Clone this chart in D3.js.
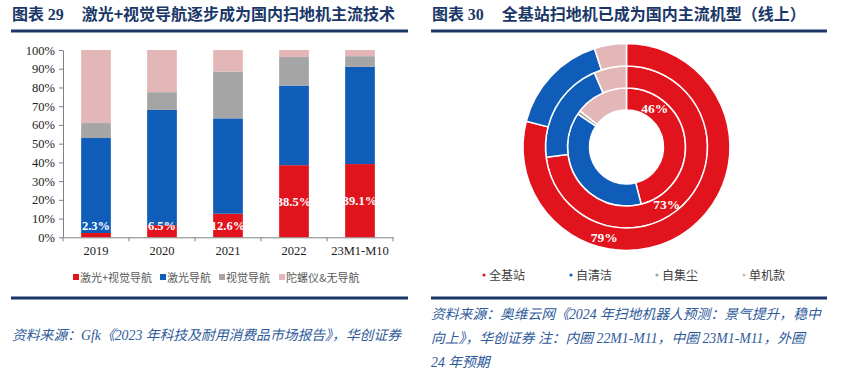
<!DOCTYPE html>
<html>
<head>
<meta charset="utf-8">
<script src="https://cdn.jsdelivr.net/npm/d3@7"></script>
<style>
  html, body { margin: 0; padding: 0; background: #fff; }
  svg { display: block; }
</style>
</head>
<body>
<svg id="chart" width="844" height="374"></svg>
<script>
// left chart: navigation tech share
const years = ['2019', '2020', '2021', '2022', '23M1-M10'];
const navKeys = ['激光+视觉导航', '激光导航', '视觉导航', '陀螺仪&无导航'];
const laserVision = [2.3, 6.5, 12.6, 38.5, 39.1];
const laserOnly = [50.7, 61.5, 50.9, 42.5, 51.9];
const visionOnly = [8.0, 9.5, 25.0, 15.3, 5.7];
const gyroNone = [39.0, 22.5, 11.5, 3.7, 3.3];
const yTicks = [0, 10, 20, 30, 40, 50, 60, 70, 80, 90, 100];

// right chart: product type share, rings inner -> outer
const ringNames = ['22M1-M11', '23M1-M11', '24E'];
const typeKeys = ['全基站', '自清洁', '自集尘', '单机款'];
const fullBase = [46, 73, 79];
const selfClean = [38.5, 20.5, 16];
const selfDust = [1, 0, 0];
const single = [14.5, 6.5, 5];

const RED = '#E1141E', BLUE = '#0F5DB8', GRAY = '#A5A5A5', PINK = '#E3B7B7';
const NAVY = '#1A3768';
const cjk = '"Noto Sans CJK SC", sans-serif';
const serif = '"Liberation Serif", "Times New Roman", serif';
const mixed = '"Liberation Serif", "Noto Sans CJK SC", serif';

const svg = d3.select('#chart');

// headers
function header(x0, x1, num, text) {
  const t = svg.append('text')
    .attr('x', x0 + 1).attr('y', 20)
    .attr('fill', NAVY)
    .attr('font-family', cjk)
    .attr('font-weight', 700)
    .attr('font-size', 16);
  t.append('tspan').text('图表 ');
  t.append('tspan').attr('font-family', serif).text(num);
  t.append('tspan').attr('dx', 18).text(text);
  svg.append('line')
    .attr('x1', x0).attr('x2', x1).attr('y1', 31).attr('y2', 31)
    .attr('stroke', NAVY).attr('stroke-width', 3);
  svg.append('line')
    .attr('x1', x0).attr('x2', x1).attr('y1', 298).attr('y2', 298)
    .attr('stroke', NAVY).attr('stroke-width', 3);
}
header(11, 408, '29', '激光+视觉导航逐步成为国内扫地机主流技术');
header(431, 827, '30', '全基站扫地机已成为国内主流机型（线上）');

// ---------- stacked bars ----------
const rows = years.map((y, i) => ({
  year: y,
  [navKeys[0]]: laserVision[i],
  [navKeys[1]]: laserOnly[i],
  [navKeys[2]]: visionOnly[i],
  [navKeys[3]]: gyroNone[i]
}));
const navColor = d3.scaleOrdinal().domain(navKeys).range([RED, BLUE, GRAY, PINK]);

const x = d3.scaleBand().domain(years).range([63, 393]).paddingInner(0.55).paddingOuter(0.275);
const y = d3.scaleLinear().domain([0, 100]).range([237.3, 50]);

const stacked = d3.stack().keys(navKeys)(rows);
const gBars = svg.append('g');
stacked.forEach(layer => {
  gBars.selectAll(null)
    .data(layer)
    .join('rect')
    .attr('x', d => x(d.data.year))
    .attr('width', x.bandwidth())
    .attr('y', d => y(d[1]))
    .attr('height', d => y(d[0]) - y(d[1]))
    .attr('fill', navColor(layer.key));
});

// y axis
const yAxis = svg.append('g')
  .attr('transform', 'translate(63,0)')
  .call(d3.axisLeft(y).tickValues(yTicks).tickFormat(d => d + '%').tickSize(4).tickSizeOuter(0).tickPadding(4));
// x axis with ticks between categories
const xAxis = svg.append('g')
  .attr('transform', `translate(0,${y(0)})`)
  .call(d3.axisBottom(x).tickSize(0).tickPadding(9));
xAxis.selectAll(null)
  .data(d3.range(years.length + 1))
  .join('line')
  .attr('x1', i => 63 + x.step() * i).attr('x2', i => 63 + x.step() * i)
  .attr('y1', 0).attr('y2', 4)
  .attr('stroke', '#808080');
[yAxis, xAxis].forEach(a => {
  a.selectAll('.domain').attr('stroke', '#808080');
  a.selectAll('.tick line').attr('stroke', '#808080');
  a.selectAll('text').attr('fill', '#222').attr('font-family', serif).attr('font-size', 12.5);
});

// value labels for laser+vision
gBars.selectAll('.val')
  .data(rows)
  .join('text')
  .attr('class', 'val')
  .attr('x', d => x(d.year) + x.bandwidth() / 2)
  .attr('y', d => y(Math.max(d[navKeys[0]] / 2, 6.3)) + 4.5)
  .attr('text-anchor', 'middle')
  .attr('fill', '#fff')
  .attr('font-family', serif)
  .attr('font-weight', 700)
  .attr('font-size', 12.5)
  .text(d => d[navKeys[0]].toFixed(1) + '%');

// legend left
const legL = svg.append('g').attr('transform', 'translate(0,278)');
const legLx = [73, 160, 219, 279];
navKeys.forEach((k, i) => {
  legL.append('rect').attr('x', legLx[i]).attr('y', -4).attr('width', 6).attr('height', 6).attr('fill', navColor(k));
  legL.append('text').attr('x', legLx[i] + 7).attr('y', 4)
    .attr('fill', '#595959').attr('font-family', cjk).attr('font-size', 11).text(k);
});

// ---------- nested donut ----------
const cx = 626.5, cy = 147;
const ringRadii = [[37, 59], [59, 81], [81, 103.5]];
const typeColor = d3.scaleOrdinal().domain(typeKeys).range([RED, BLUE, GRAY, PINK]);
const pie = d3.pie().sort(null).value(d => d.v);
const gPie = svg.append('g').attr('transform', `translate(${cx},${cy})`);
const labelAngles = [36, 145, 194]; // degrees clockwise from top

ringNames.forEach((name, r) => {
  const vals = [fullBase[r], selfClean[r], selfDust[r], single[r]].map((v, i) => ({ k: typeKeys[i], v }));
  const arc = d3.arc().innerRadius(ringRadii[r][0]).outerRadius(ringRadii[r][1]);
  gPie.append('g')
    .selectAll('path')
    .data(pie(vals).filter(d => d.data.v > 0))
    .join('path')
    .attr('d', arc)
    .attr('fill', d => typeColor(d.data.k))
    .attr('stroke', '#fff')
    .attr('stroke-width', 1.5);
  const a = labelAngles[r] * Math.PI / 180;
  const c = arc.centroid({ startAngle: a, endAngle: a });
  gPie.append('text')
    .attr('x', c[0]).attr('y', c[1] + 5)
    .attr('text-anchor', 'middle')
    .attr('fill', '#fff')
    .attr('font-family', serif)
    .attr('font-weight', 700)
    .attr('font-size', 13.5)
    .text(fullBase[r] + '%');
});

// legend right
const legR = svg.append('g').attr('transform', 'translate(0,275)');
const legRx = [484, 571, 657, 744];
typeKeys.forEach((k, i) => {
  legR.append('circle').attr('cx', legRx[i]).attr('cy', 0).attr('r', 1.6).attr('fill', typeColor(k));
  legR.append('text').attr('x', legRx[i] + 5).attr('y', 4.5)
    .attr('fill', '#404040').attr('font-family', cjk).attr('font-size', 12).text(k);
});

// sources
svg.append('text')
  .attr('x', 12).attr('y', 340)
  .attr('fill', '#2E5A9A').attr('font-family', mixed).attr('font-style', 'italic').attr('font-size', 13.8)
  .text('资料来源：Gfk《2023 年科技及耐用消费品市场报告》，华创证券');
const srcR = [
  '资料来源：奥维云网《2024 年扫地机器人预测：景气提升，稳中',
  '向上》，华创证券 注：内圈 22M1-M11，中圈 23M1-M11，外圈',
  '24 年预期'
];
svg.append('g').selectAll('text')
  .data(srcR)
  .join('text')
  .attr('x', 431).attr('y', (d, i) => 319 + i * 24)
  .attr('fill', '#2E5A9A').attr('font-family', mixed).attr('font-style', 'italic').attr('font-size', 13.8)
  .text(d => d);
</script>
</body>
</html>
